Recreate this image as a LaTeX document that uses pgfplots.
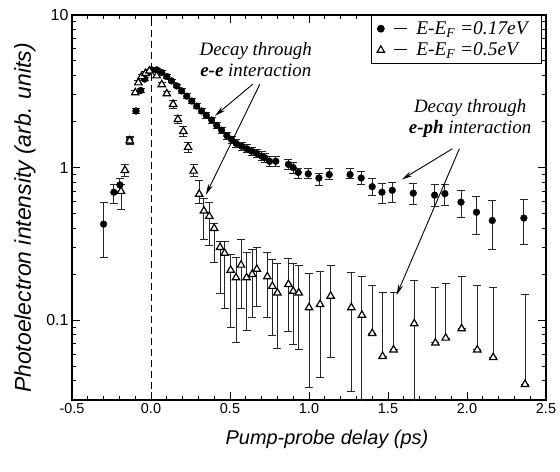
\documentclass[border=0pt]{standalone}
\usepackage{fontspec}
\setmainfont{Liberation Sans}
\newfontfamily\tms{Liberation Serif}
\usepackage{pgfplots}
\pgfplotsset{compat=1.18}
\usepackage{pgfplotstable}
\usetikzlibrary{arrows.meta}

% E-E_F = 0.17 eV (filled circles): x y upper lower
\pgfplotstableread{
x y hi lo
-0.300 0.426 0.590 0.257
-0.235 0.690 0.780 0.580
-0.197 0.770 0.850 0.700
-0.135 1.520 1.600 1.440
-0.095 2.350 2.450 2.250
-0.065 3.200 3.300 3.100
-0.040 3.800 3.900 3.700
-0.017 4.200 4.300 4.100
0.004 4.370 4.470 4.270
0.036 4.370 4.470 4.270
0.068 4.200 4.300 4.100
0.100 3.950 4.050 3.850
0.130 3.700 3.800 3.600
0.163 3.430 3.530 3.330
0.194 3.180 3.280 3.080
0.226 2.940 3.040 2.840
0.258 2.730 2.830 2.630
0.289 2.530 2.630 2.430
0.320 2.350 2.450 2.250
0.350 2.200 2.290 2.110
0.384 2.050 2.140 1.960
0.416 1.890 1.980 1.800
0.447 1.760 1.840 1.680
0.480 1.620 1.700 1.540
0.510 1.530 1.610 1.450
0.540 1.440 1.520 1.360
0.574 1.380 1.460 1.300
0.606 1.330 1.410 1.250
0.637 1.280 1.360 1.200
0.669 1.240 1.320 1.160
0.700 1.190 1.270 1.110
0.720 1.160 1.240 1.080
0.750 1.100 1.180 1.020
0.790 1.100 1.180 1.020
0.870 1.050 1.130 0.970
0.900 1.000 1.080 0.920
0.932 0.930 0.985 0.855
0.995 0.910 0.980 0.850
1.063 0.855 0.920 0.760
1.128 0.900 0.980 0.840
1.260 0.900 0.980 0.850
1.330 0.855 0.945 0.770
1.400 0.750 0.850 0.660
1.462 0.690 0.790 0.585
1.527 0.710 0.800 0.590
1.660 0.680 0.790 0.570
1.795 0.660 0.770 0.556
1.860 0.675 0.780 0.565
1.962 0.594 0.710 0.470
2.060 0.510 0.645 0.366
2.160 0.450 0.607 0.293
2.360 0.467 0.620 0.316
}\lowE

% E-E_F = 0.5 eV (open triangles): x y upper lower
\pgfplotstableread{
x y hi lo
-0.190 0.700 0.780 0.530
-0.165 0.960 1.050 0.880
-0.135 1.500 1.580 1.420
-0.100 3.100 3.200 3.000
-0.080 3.600 3.700 3.500
-0.060 3.950 4.050 3.850
-0.035 4.150 4.250 4.050
-0.010 4.300 4.400 4.200
0.036 4.000 4.100 3.900
0.068 3.500 3.600 3.400
0.100 3.050 3.150 2.950
0.140 2.600 2.750 2.450
0.170 2.070 2.200 1.950
0.205 1.730 1.850 1.610
0.235 1.360 1.470 1.250
0.270 0.950 1.050 0.870
0.305 0.670 0.830 0.580
0.335 0.520 0.630 0.340
0.369 0.480 0.590 0.310
0.400 0.400 0.430 0.240
0.437 0.300 0.330 0.150
0.466 0.275 0.330 0.120
0.504 0.213 0.270 0.090
0.538 0.190 0.257 0.072
0.570 0.230 0.340 0.120
0.605 0.190 0.280 0.086
0.640 0.200 0.290 0.105
0.670 0.216 0.300 0.124
0.736 0.193 0.280 0.104
0.768 0.167 0.250 0.080
0.800 0.151 0.236 0.065
0.870 0.172 0.255 0.085
0.900 0.155 0.236 0.069
0.935 0.151 0.230 0.064
1.000 0.121 0.203 0.036
1.070 0.127 0.210 0.042
1.137 0.144 0.227 0.057
1.268 0.121 0.205 0.034
1.335 0.108 0.194 0.005
1.400 0.082 0.170 0.082
1.466 0.058 0.152 0.058
1.535 0.064 0.152 0.064
1.666 0.095 0.183 0.005
1.800 0.071 0.163 0.071
1.865 0.0765 0.174 0.0765
1.966 0.088 0.193 0.088
2.065 0.064 0.170 0.064
2.166 0.057 0.163 0.057
2.367 0.038 0.148 0.038
}\highE

\newcommand{\ldash}{\hspace*{7bp}\rule[0.28em]{13bp}{0.9bp}}

\begin{document}
\begin{tikzpicture}
\begin{axis}[
    scale only axis,
    width=474bp, height=385bp,
    xmin=-0.5, xmax=2.5,
    ymode=log, ymin=0.03, ymax=10,
    xtick={-0.5,0,0.5,1,1.5,2,2.5},
    minor x tick num=4,
    xticklabel style={font=\fontsize{14.5}{16}\selectfont,
        /pgf/number format/.cd, fixed, fixed zerofill, precision=1},
    yticklabel style={font=\fontsize{16}{18}\selectfont},
    ytick={0.1,1,10}, yticklabels={0.1,1,10},
    minor ytick={0.03,0.04,0.05,0.06,0.07,0.08,0.09,0.2,0.3,0.4,0.5,0.6,0.7,0.8,0.9,2,3,4,5,6,7,8,9},
    /pgf/number format/assume math mode=true,
    tick align=inside,
    major tick length=8bp, minor tick length=4.5bp,
    axis line style={line width=1.6pt},
    every tick/.style={black, line width=1pt},
    xlabel={Pump-probe delay (ps)},
    ylabel={Photoelectron intensity (arb. units)},
    xlabel style={font=\fontsize{20}{23}\selectfont\itshape,
        at={(axis description cs:0.538,-0.101)}, anchor=center},
    ylabel style={font=\fontsize{23}{26}\selectfont\itshape,
        at={(axis description cs:-0.099,0.473)}, anchor=center},
    legend style={at={(rel axis cs:0.992,1)}, anchor=north east,
        draw=black, line width=1pt, font=\tms\itshape\fontsize{19.5}{22}\selectfont,
        inner xsep=6bp, inner ysep=5bp, row sep=5bp,
        nodes={inner ysep=1bp}},
    legend cell align=left,
]
\coordinate (ll) at (rel axis cs:0,0);
\coordinate (ur) at (rel axis cs:1,1);

\addplot[black, line width=0.9pt, dash pattern=on 7bp off 4bp, forget plot]
    coordinates {(0,0.03) (0,10)};

\addplot[only marks, black, mark=*, mark size=3.4pt, mark options={fill=black},
    error bars/.cd, y dir=both, y explicit,
    error bar style={line width=0.9pt, black!85},
    error mark options={rotate=90, mark size=4pt, line width=0.9pt, black!85}]
    table[x=x, y=y, y error plus expr=\thisrow{hi}-\thisrow{y},
          y error minus expr=\thisrow{y}-\thisrow{lo}] {\lowE};

\addplot[only marks, black, mark=triangle*, mark size=4.3pt,
    mark options={fill=white, line width=1.2pt},
    error bars/.cd, y dir=both, y explicit,
    error bar style={line width=0.9pt, black!85},
    error mark options={rotate=90, mark size=4pt, line width=0.9pt, black!85}]
    table[x=x, y=y, y error plus expr=\thisrow{hi}-\thisrow{y},
          y error minus expr=\thisrow{y}-\thisrow{lo}] {\highE};

\legend{\ldash\enspace E-E\textsubscript{F} =0.17eV\hspace*{6bp}, \ldash\enspace E-E\textsubscript{F} =0.5eV}

\node[font=\tms\itshape\fontsize{19}{21}\selectfont, align=center]
    at (axis cs:0.663,5.1) {Decay through\\\textbf{e-e} interaction};
\node[font=\tms\itshape\fontsize{19}{21}\selectfont, align=center]
    at (axis cs:2.02,2.1) {Decay through\\\textbf{e-ph} interaction};

\draw[line width=0.9pt, -{Stealth[length=11bp, width=5bp]}]
    (axis cs:0.644,3.52) -- (axis cs:0.404,2.18);
\draw[line width=0.9pt, -{Stealth[length=11bp, width=5bp]}]
    (axis cs:0.689,3.52) -- (axis cs:0.347,0.664);
\draw[line width=0.9pt, -{Stealth[length=11bp, width=5bp]}]
    (axis cs:1.908,1.33) -- (axis cs:1.586,0.834);
\draw[line width=0.9pt, -{Stealth[length=11bp, width=5bp]}]
    (axis cs:1.952,1.33) -- (axis cs:1.554,0.146);
\end{axis}
\pgfresetboundingbox
\path ([shift={(-72bp,-72bp)}]ll) rectangle ([shift={(14bp,15bp)}]ur);
\end{tikzpicture}
\end{document}
